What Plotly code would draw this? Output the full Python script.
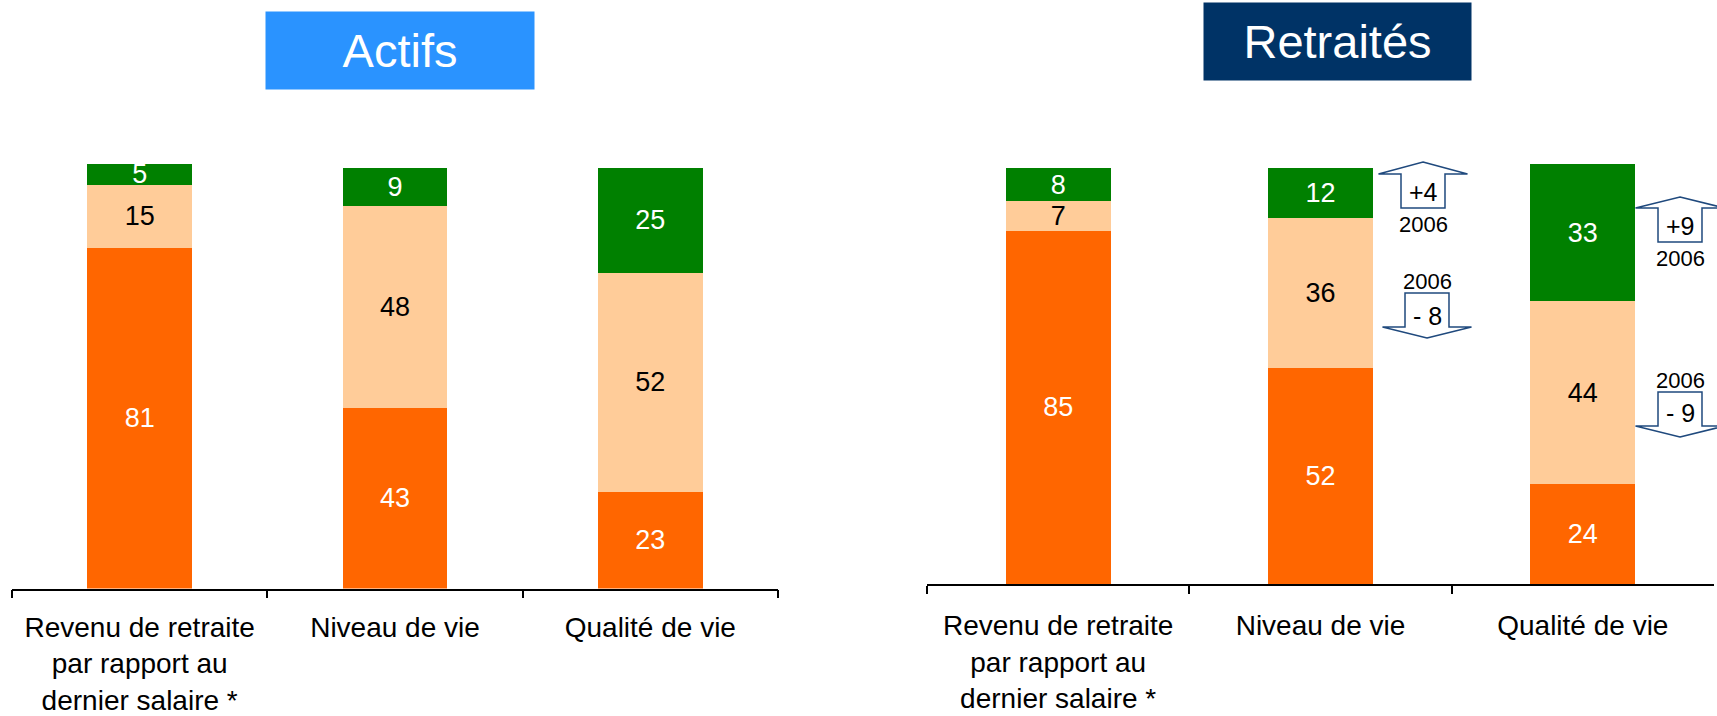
import plotly.graph_objects as go

W, H = 1717, 716

categories = ["Revenu de retraite<br>par rapport au<br>dernier salaire *",
              "Niveau de vie", "Qualité de vie"]

actifs_bas = [81, 43, 23]
actifs_moyen = [15, 48, 52]
actifs_haut = [5, 9, 25]

retraites_bas = [85, 52, 24]
retraites_moyen = [7, 36, 44]
retraites_haut = [8, 12, 33]

panel_titles = ["Actifs", "Retraités"]

# evolution vs 2006 (Retraités)
evolutions = [("+4", "up"), ("- 8", "down"), ("+9", "up"), ("- 9", "down")]

C_BAS = "#FF6600"
C_MOY = "#FFCC99"
C_HAUT = "#008000"
FONT = "Liberation Sans, Arial, sans-serif"

def px(x):
    return x / W

def py(y):
    return 1 - y / H

fig = go.Figure()

def add_stack(xaxis, yaxis, bas, moy, haut, width):
    for vals, col, tcol in [(bas, C_BAS, "white"), (moy, C_MOY, "black"), (haut, C_HAUT, "white")]:
        fig.add_trace(go.Bar(
            x=categories, y=vals, xaxis=xaxis, yaxis=yaxis,
            marker=dict(color=col, line=dict(width=0)),
            width=width,
            text=[str(v) for v in vals], textposition="inside",
            insidetextanchor="middle", textangle=0,
            textfont=dict(color=tcol, size=27, family=FONT),
            hoverinfo="skip", showlegend=False,
        ))

add_stack("x", "y", actifs_bas, actifs_moyen, actifs_haut, 0.41)
add_stack("x2", "y2", retraites_bas, retraites_moyen, retraites_haut, 0.40)

xcommon = dict(type="category", range=[-0.5, 2.5], showline=True, linecolor="black",
               linewidth=1.5, ticks="outside", tickson="boundaries", ticklen=8,
               tickcolor="black", tickwidth=1.5, showgrid=False, zeroline=False,
               tickfont=dict(size=28, color="black", family=FONT), fixedrange=True)
ycommon = dict(range=[0, 101], showline=False, showticklabels=False, ticks="",
               showgrid=False, zeroline=False, fixedrange=True)

fig.update_layout(
    width=W, height=H, margin=dict(l=0, r=0, t=0, b=0, autoexpand=False),
    paper_bgcolor="white", plot_bgcolor="white",
    barmode="stack", showlegend=False,
    uniformtext=dict(minsize=27, mode="show"),
    xaxis=dict(domain=[px(12), px(778)], anchor="y", ticklabelstandoff=13, **xcommon),
    yaxis=dict(domain=[py(588.5), py(163.5)], anchor="x", **ycommon),
    xaxis2=dict(domain=[px(927), px(1714)], anchor="y2", ticklabelstandoff=16, **xcommon),
    yaxis2=dict(domain=[py(584), py(164)], anchor="x2", **ycommon),
    font=dict(family=FONT),
)

# panel titles
fig.add_annotation(x=px(400), y=py(50.5), xref="paper", yref="paper", text=panel_titles[0],
                   showarrow=False, width=268, height=77, bgcolor="#2A93FF", borderpad=0,
                   xanchor="center", yanchor="middle",
                   font=dict(size=47, color="white", family=FONT))
fig.add_annotation(x=px(1337.5), y=py(41.5), xref="paper", yref="paper", text=panel_titles[1],
                   showarrow=False, width=267, height=77, bgcolor="#003366", borderpad=0,
                   xanchor="center", yanchor="middle",
                   font=dict(size=47, color="white", family=FONT))

# evolution arrows
ARROW_COL = "#1F497D"
arrow_geo = [
    # cx, tip, head, shaft end, label y, year y
    (1423, 162, 174, 208, 192, 224),
    (1427, 338, 327, 293, 316, 282),
    (1680, 197, 208, 242, 226, 258),
    (1680, 437, 426, 392, 413, 380),
]
HW, SW = 44.5, 22
for (lab, d), (cx, tip, head, end, ly, yy) in zip(evolutions, arrow_geo):
    pts = [(cx, tip), (cx + HW, head), (cx + SW, head), (cx + SW, end),
           (cx - SW, end), (cx - SW, head), (cx - HW, head)]
    path = "M " + " L ".join(f"{px(a):.5f},{py(b):.5f}" for a, b in pts) + " Z"
    fig.add_shape(type="path", path=path, xref="paper", yref="paper",
                  line=dict(color=ARROW_COL, width=1.5), fillcolor="white", layer="above")
    fig.add_annotation(x=px(cx), y=py(ly), xref="paper", yref="paper", text=lab,
                       showarrow=False, xanchor="center", yanchor="middle",
                       font=dict(size=25, color="black", family=FONT))
    fig.add_annotation(x=px(cx), y=py(yy), xref="paper", yref="paper", text="2006",
                       showarrow=False, xanchor="center", yanchor="middle",
                       font=dict(size=22, color="black", family=FONT))

fig.write_html("out.html", config={"displayModeBar": False},
               post_script="document.body.style.margin='0';document.body.style.overflow='hidden';")
